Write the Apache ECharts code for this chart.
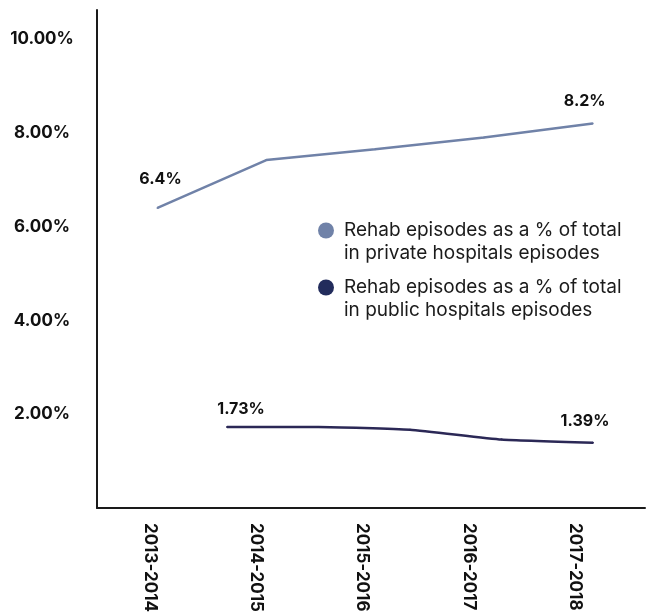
<!DOCTYPE html>
<html>
<head>
<meta charset="utf-8">
<script src="https://cdn.jsdelivr.net/npm/echarts@6/dist/echarts.min.js"></script>
<style>
  html, body { margin: 0; padding: 0; background: #fff; }
  #chart { width: 650px; height: 615px; }
</style>
</head>
<body>
<div id="chart"></div>
<script>
// data
const categories = ['2013-2014', '2014-2015', '2015-2016', '2016-2017', '2017-2018']
const privateShare = [6.4, 7.42, 7.65, 7.9, 8.2]
const publicShare = [1.73, 1.73, 1.67, 1.46, 1.39]
const yTicks = [2, 4, 6, 8, 10]

const privateName = 'Rehab episodes as a % of total\nin private hospitals episodes'
const publicName = 'Rehab episodes as a % of total\nin public hospitals episodes'

const Y_MAX = 10.62
const FONT = 'Inter, "Noto Sans", sans-serif'

// only first and last point get a label
function withEndLabels(values, firstOffset, lastOffset) {
  return values.map((v, i) => {
    const isFirst = i === 0
    const isLast = i === values.length - 1
    return {
      value: v,
      label: {
        show: isFirst || isLast,
        position: 'top',
        distance: 14,
        offset: isFirst ? firstOffset : lastOffset,
        formatter: p => p.value + '%',
        color: '#111',
        fontFamily: FONT,
        fontWeight: 'bold',
        fontSize: 16
      }
    }
  })
}

function hiddenY(gridIndex) {
  return { type: 'value', gridIndex, min: 0, max: Y_MAX, show: false }
}

// leading empty line keeps the dot level with the first text line
const legendBase = {
  left: 318,
  padding: 0,
  icon: 'circle', itemWidth: 26, itemHeight: 16,
  selectedMode: false,
  formatter: name => '\n' + name,
  textStyle: { fontFamily: FONT, fontSize: 19, color: '#1b1b1b', lineHeight: 23 }
}

const chart = echarts.init(document.getElementById('chart'))
chart.setOption({
  animation: false,
  backgroundColor: '#fff',
  grid: [
    // axis lines
    { left: 97, right: 5, top: 10, bottom: 107 },
    // category labels
    { left: 97, right: 22, top: 10, bottom: 107 },
    // private line
    { left: 157.5, right: 57.3, top: 10, bottom: 107 },
    // public line
    { left: 227, right: 57, top: 10, bottom: 107 }
  ],
  legend: [
    Object.assign({ data: [privateName], top: 196 }, legendBase),
    Object.assign({ data: [publicName], top: 253, itemStyle: { color: '#222c5c' } }, legendBase)
  ],
  xAxis: [
    {
      type: 'category', gridIndex: 0, data: categories,
      axisLine: { lineStyle: { color: '#1a1a1a', width: 2 } },
      axisTick: { show: false },
      axisLabel: { show: false }
    },
    {
      type: 'category', gridIndex: 1, data: categories,
      axisLine: { show: false },
      axisTick: { show: false },
      axisLabel: {
        rotate: -90,
        margin: 18,
        color: '#111',
        fontFamily: FONT,
        fontWeight: 'bold',
        fontSize: 17
      }
    },
    { type: 'category', gridIndex: 2, data: categories, boundaryGap: false, show: false },
    { type: 'category', gridIndex: 3, data: categories, boundaryGap: false, show: false }
  ],
  yAxis: [
    {
      type: 'value', gridIndex: 0, min: 0, max: Y_MAX, interval: 2,
      axisLine: { show: true, lineStyle: { color: '#1a1a1a', width: 2 } },
      axisTick: { show: false },
      splitLine: { show: false },
      axisLabel: {
        align: 'center',
        margin: 55,
        color: '#111',
        fontFamily: FONT,
        fontWeight: 'bold',
        fontSize: 17,
        formatter: v => (yTicks.includes(v) ? v.toFixed(2) + '%' : '')
      }
    },
    hiddenY(1),
    hiddenY(2),
    hiddenY(3)
  ],
  series: [
    {
      name: privateName,
      type: 'line',
      xAxisIndex: 2, yAxisIndex: 2,
      data: withEndLabels(privateShare, [3, -6], [-8, 1]),
      symbol: 'circle',
      symbolSize: 2,
      showSymbol: true,
      color: '#7082a8',
      lineStyle: { width: 2.5, color: '#7082a8' }
    },
    {
      name: publicName,
      type: 'line',
      xAxisIndex: 3, yAxisIndex: 3,
      data: withEndLabels(publicShare, [14, 5], [-8, 1]),
      symbol: 'circle',
      symbolSize: 2,
      showSymbol: true,
      smooth: 0.15,
      color: '#222c5c',
      itemStyle: { color: '#2b2856' },
      lineStyle: { width: 2.5, color: '#2b2856' }
    }
  ]
})
</script>
</body>
</html>
